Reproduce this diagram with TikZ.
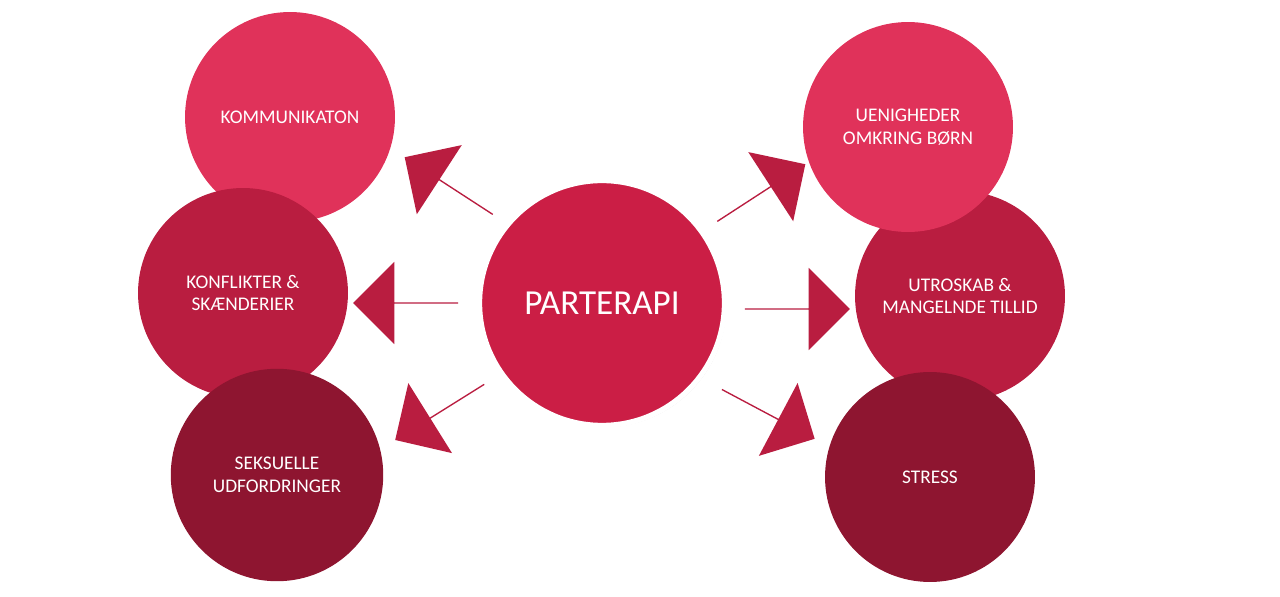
\documentclass[tikz,border=0pt]{standalone}
\usepackage{fontspec}
\setmainfont{Carlito}
\usetikzlibrary{shapes.arrows,shadows}
\definecolor{lightred}{HTML}{E0325A}
\definecolor{midred}{HTML}{B91D40}
\definecolor{darkred}{HTML}{8E1530}
\definecolor{hubred}{HTML}{CB1E45}
\tikzset{
  topic/.style={circle, minimum size=4.2cm, inner sep=0pt, text=white, align=center, font=\fontsize{11}{13}\selectfont},
  blockarrow/.style={single arrow, fill=midred, minimum height=2.1cm, minimum width=1.65cm, single arrow head extend=0.42cm, inner sep=0pt, anchor=center}
}
\begin{document}
\begin{tikzpicture}[x=0.02cm, y=-0.02cm]
\useasboundingbox (0,0) rectangle (1280,597);

\node[topic, fill=lightred] (komm) at (290,117) {KOMMUNIKATON};
\node[topic, fill=midred] (konf) at (243,293) {KONFLIKTER \&\\SKÆNDERIER};
\node[topic, fill=darkred, minimum size=4.25cm] (seks) at (277,475) {SEKSUELLE\\UDFORDRINGER};

\node[topic, fill=midred] (utro) at (960,296) {UTROSKAB \&\\MANGELNDE TILLID};
\node[topic, fill=lightred] (ueni) at (908,127) {UENIGHEDER\\OMKRING BØRN};
\node[topic, fill=darkred] (stress) at (930,477) {STRESS};

\node[blockarrow, rotate=147] (a1) at (449,186) {};
\node[blockarrow, rotate=180] (a2) at (406,303) {};
\node[blockarrow, rotate=212] (a3) at (440,412) {};
\node[blockarrow, rotate=33] (a4) at (761,193) {};
\node[blockarrow] (a5) at (797,309) {};
\node[blockarrow, rotate=-28] (a6) at (768,414) {};

\node[topic, fill=hubred, minimum size=4.9cm, draw=white, line width=3pt,
  drop shadow={shadow xshift=1pt, shadow yshift=-1pt, opacity=0.35},
  font=\fontsize{20}{24}\selectfont] (hub) at (602,303) {PARTERAPI};
\end{tikzpicture}
\end{document}
